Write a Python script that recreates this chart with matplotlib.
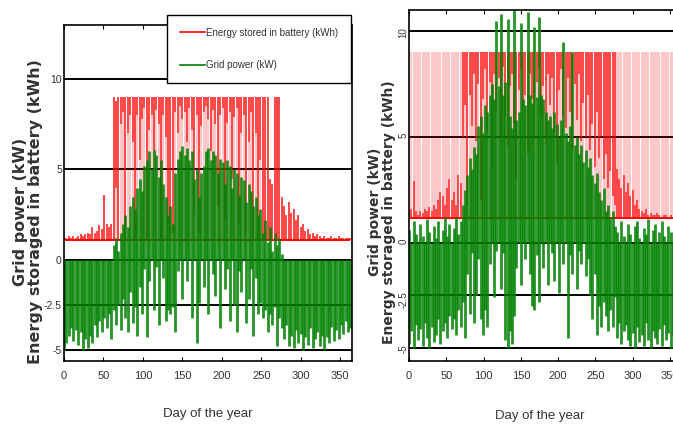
import numpy as np
import matplotlib
matplotlib.use('Agg')
import matplotlib.pyplot as plt
from matplotlib.lines import Line2D

NARROW = ['Liberation Sans', 'DejaVu Sans']

# one sample every 3 days (hourly data summarised as daily ranges)
days = np.arange(0, 366, 3)
xticks = [0, 50, 100, 150, 200, 250, 300, 350]
yticks = [-5, -2.5, 0, 5, 10]
ytick_labels = ['-5', '-2.5', '0', '5', '10']

# ---- left panel ----
L_floor = 1.1
L_red_max = [1.2, 1.2, 1.3, 1.2, 1.3, 1.2, 1.3, 1.4, 1.3, 1.4,
             1.5, 1.4, 1.8, 1.5, 1.6, 1.9, 1.7, 3.6, 2.0, 1.8,
             2.0, 9.0, 8.8, 9.0, 9.0, 9.0, 9.0, 9.0, 9.0, 9.0,
             9.0, 9.0, 9.0, 9.0, 9.0, 9.0, 9.0, 9.0, 9.0, 9.0,
             9.0, 9.0, 9.0, 9.0, 9.0, 9.0, 9.0, 9.0, 9.0, 9.0,
             9.0, 9.0, 9.0, 9.0, 9.0, 9.0, 9.0, 9.0, 9.0, 9.0,
             9.0, 9.0, 9.0, 9.0, 9.0, 9.0, 9.0, 9.0, 9.0, 9.0,
             9.0, 9.0, 9.0, 9.0, 9.0, 9.0, 9.0, 9.0, 9.0, 9.0,
             9.0, 9.0, 9.0, 9.0, 9.0, 9.0, 9.0, 4.5, 4.2, 9.0,
             9.0, 9.0, 3.5, 3.0, 2.5, 3.2, 2.6, 2.8, 2.2, 2.5,
             1.8, 2.0, 1.6, 1.7, 1.4, 1.5, 1.3, 1.4, 1.3, 1.2,
             1.3, 1.2, 1.2, 1.3, 1.2, 1.2, 1.3, 1.2, 1.2, 1.2,
             1.2, 1.2]
L_dense_lo = [1.1] * 20 + [
             1.1, 1.1, 4.0, 1.1, 7.5, 8.2, 1.1, 7.0, 8.0, 6.5,
             1.1, 8.0, 5.5, 7.8, 8.4, 1.1, 7.2, 8.0, 6.0, 8.3,
             7.5, 1.1, 8.0, 6.8, 2.0, 1.1, 1.5, 8.2, 7.0, 8.5,
             7.8, 8.2, 6.5, 8.4, 7.2, 2.5, 8.0, 1.5, 7.4, 8.2,
             8.5, 7.8, 6.0, 8.3, 7.5, 3.0, 8.0, 8.4, 2.2, 7.6,
             8.2, 4.5, 7.9, 8.4, 2.0, 7.0, 8.0, 1.5, 6.5, 8.2,
             1.1, 7.0, 1.1, 5.5, 1.1, 1.1, 1.1, 1.1, 1.1, 1.1] + [1.1] * 32
L_green_max = [0.0] * 20 + [
             0.0, 0.8, 1.2, 0.5, 1.5, 2.0, 2.5, 1.8, 3.0, 3.5,
             2.8, 4.0, 4.5, 3.8, 5.2, 5.5, 6.0, 5.0, 6.1, 5.8,
             4.6, 5.5, 4.2, 3.5, 2.5, 3.0, 2.0, 4.8, 5.6, 6.0,
             6.3, 5.8, 6.2, 5.5, 6.0, 4.5, 5.0, 3.5, 4.8, 5.2,
             6.0, 6.2, 5.5, 6.0, 5.8, 4.8, 5.6, 5.4, 4.2, 5.5,
             5.2, 4.0, 5.0, 4.8, 3.6, 4.6, 4.4, 3.2, 4.2, 3.8,
             3.0, 3.5, 2.5, 2.8, 1.5, 2.2, 1.0, 1.8, 0.5, 1.5,
             0.8, 1.2, 0.3] + [0.0] * 29
L_green_min = [-5.0, -4.6, -4.2, -3.8, -4.5, -3.9, -4.7, -4.0, -5.0, -4.4,
               -4.9, -4.2, -4.6, -3.6, -4.3, -3.4, -4.0, -3.2, -3.8, -3.0,
               -4.4, -2.8, -3.6, -2.5, -3.9, -2.2, -3.2, -4.0, -1.8, -3.5,
               -2.6, -4.2, -1.5, -3.0, -0.5, -4.3, -1.2, 0.0, -2.8, -0.4,
               -3.6, 0.0, -1.0, -3.4, -2.8, -3.0, -2.6, -4.0, -0.6, 0.0,
               -2.2, 0.0, -1.2, 0.0, -3.2, 0.0, -4.6, -2.4, 0.0, -1.5,
               0.0, -3.0, 0.0, -0.8, -2.0, 0.0, -3.8, 0.0, -1.6, -0.5,
               -3.4, 0.0, -2.5, -4.0, -0.6, -1.8, 0.0, -3.5, -2.2, -0.5,
               -4.2, -1.0, -3.0, -2.4, -3.2, -2.8, -4.0, -3.0, -3.6, -2.6,
               -4.8, -3.2, -3.8, -4.4, -3.6, -4.8, -4.2, -4.9, -3.9, -4.6,
               -4.1, -5.0, -4.3, -4.7, -3.8, -4.9, -4.4, -4.0, -4.8, -4.2,
               -5.0, -4.3, -4.6, -3.7, -4.5, -3.9, -4.4, -3.6, -4.1, -3.4,
               -4.0, -3.8]

# ---- right panel ----
R_floor = 1.15
R_red_max = [7.8] + [9.0] * 121
R_dense_hi = [1.4, 1.6, 2.9, 1.5, 1.3, 1.5, 1.4, 1.6, 1.5, 1.7,
              1.5, 1.8, 1.6, 2.0, 2.4, 2.2, 1.8, 2.6, 3.0, 2.0,
              2.4, 1.8, 3.2, 2.8, 9.0, 9.0, 9.0, 9.0, 9.0, 9.0] + [9.0] * 60 + [
              9.0, 9.0, 9.0, 3.5, 3.0, 2.6, 3.2, 2.4, 2.8, 2.2,
              2.5, 1.8, 2.0, 1.6, 1.5, 1.4, 1.6, 1.3, 1.4, 1.3,
              1.3, 1.4, 1.3, 1.2, 1.3, 1.3, 1.2, 1.3, 1.2, 1.3,
              1.2, 1.3]
R_dense_lo = [1.15] * 20 + [
              1.15, 1.15, 1.15, 1.15, 5.0, 6.5, 1.8, 7.0, 5.5, 8.0,
              4.8, 7.5, 2.0, 6.8, 8.2, 5.2, 7.6, 3.5, 8.0, 6.2,
              7.8, 5.0, 8.3, 6.0, 4.5, 7.4, 8.0, 5.6, 3.0, 7.2,
              8.2, 6.4, 7.0, 4.2, 8.0, 6.8, 5.0, 7.6, 8.3, 6.0,
              7.4, 4.6, 8.0, 6.5, 7.8, 5.2, 3.8, 7.2, 8.2, 6.0,
              5.4, 7.8, 6.2, 4.4, 7.5, 5.8, 8.0, 4.8, 6.6, 5.0,
              7.0, 4.4, 5.6, 3.6, 6.2, 4.0, 5.0, 3.0, 4.2, 2.6,
              3.4, 2.2, 1.8] + [1.15] * 29
R_green_max = [0.6, 0.0, 1.0, 0.4, 0.0, 0.9, 0.3, 0.0, 1.1, 0.5,
               0.0, 0.8, 0.2, 1.0, 0.0, 0.6, 1.2, 0.3, 0.9, 0.0,
               0.7, 1.2, 0.4, 1.0, 1.8, 2.5, 3.2, 4.0, 3.5, 4.5,
               4.2, 5.5, 6.0, 5.2, 6.5, 6.2, 7.0, 7.5, 6.8, 10.5,
               7.4, 10.8, 7.0, 7.6, 10.6, 6.0, 5.4, 11.0, 5.8, 6.2,
               10.4, 6.8, 6.5, 10.9, 7.0, 6.6, 10.2, 6.9, 10.7, 7.0,
               6.8, 6.2, 5.8, 6.0, 5.4, 6.2, 5.6, 5.0, 5.8, 9.5,
               5.2, 4.8, 5.5, 9.0, 4.6, 5.0, 4.2, 4.6, 3.8, 4.4,
               3.6, 4.0, 3.2, 2.8, 3.3, 2.4, 2.0, 2.6, 1.5, 1.8,
               1.2, 1.5, 0.8, 0.5, 0.0, 1.0, 0.3, 0.0, 0.9, 0.4,
               0.0, 0.8, 1.0, 0.2, 0.0, 0.7, 0.4, 1.1, 0.0, 0.6,
               0.9, 0.0, 0.5, 1.0, 0.3, 0.0, 0.8, 0.5, 0.0, 1.0,
               0.4, 0.0]
R_green_min = [-4.8, -4.2, -5.0, -3.9, -4.6, -4.1, -4.9, -3.8, -4.5, -5.0,
               -4.0, -4.7, -4.4, -3.6, -4.8, -4.2, -3.8, -4.5, -3.5, -4.1,
               -3.6, -4.4, -3.2, -4.0, -2.8, -4.5, -1.5, -3.4, -0.5, -3.8,
               -2.5, -0.8, -3.6, -4.4, -3.2, -4.0, -1.0, 0.0, -2.6, -0.4,
               0.0, -2.2, -0.5, -4.6, -5.0, -4.2, -4.8, -3.5, -1.2, 0.0,
               -2.0, 0.0, -0.8, 0.0, -1.5, -3.0, -3.2, -0.6, -2.8, 0.0,
               -1.2, 0.0, -2.0, 0.0, -0.5, -1.8, 0.0, -2.4, 0.0, -1.0,
               0.0, -4.5, -0.6, -1.5, 0.0, -2.2, -0.4, -1.0, 0.0, -1.6,
               -0.8, -2.5, -3.6, -1.5, -4.4, -3.0, -4.0, -2.8, -3.5, -4.2,
               -3.2, -4.0, -2.6, -4.5, -3.8, -4.8, -4.2, -3.9, -4.6, -4.9,
               -4.3, -5.0, -4.0, -4.7, -4.4, -4.9, -3.8, -4.6, -5.0, -4.2,
               -4.5, -4.8, -4.1, -4.9, -3.9, -4.6, -4.3, -5.0, -4.4, -4.7,
               -4.0, -4.5]

RED = '#ff0000'
GREEN = '#008000'


def draw_panel(ax, floor, red_max, dense_lo, dense_hi, g_min, g_max, ylim):
    ax.vlines(days, floor, red_max, color=RED, alpha=0.28, lw=1.1)
    ax.hlines(floor, days[0], days[-1], color=RED, lw=1.4)
    ax.vlines(days, dense_lo, dense_hi, color=RED, alpha=0.75, lw=1.2)
    ax.vlines(days, g_min, g_max, color=GREEN, alpha=0.85, lw=2.0)
    ax.set_xlim(0, 365)
    ax.set_ylim(*ylim)
    ax.set_xticks(xticks)
    ax.set_xticklabels([str(t) for t in xticks], family=NARROW, fontsize=8, color='#333')
    ax.set_yticks(yticks)
    ax.set_yticklabels(ytick_labels, family=NARROW, fontsize=7.5, color='#333')
    ax.yaxis.grid(True, color='black', lw=1.4)
    ax.set_axisbelow(True)
    ax.tick_params(axis='x', direction='in', top=True, length=3, pad=7)
    ax.tick_params(axis='y', length=0, pad=1.5)
    for s in ax.spines.values():
        s.set_linewidth(1.2)


fig = plt.figure(figsize=(6.73, 4.25), dpi=100)
axL = fig.add_axes([0.095, 0.151, 0.428, 0.790])
axR = fig.add_axes([0.608, 0.151, 0.404, 0.825])

draw_panel(axL, L_floor, L_red_max, L_dense_lo, L_red_max, L_green_min, L_green_max, (-5.6, 13.0))
draw_panel(axR, R_floor, R_red_max, R_dense_lo, R_dense_hi, R_green_min, R_green_max, (-5.6, 11.0))
axR.tick_params(axis='y', labelrotation=90, labelsize=7, pad=0.5)

ylab = 'Grid power (kW)\nEnergy storaged in battery (kWh)'
fig.text(28 / 673, 1 - 212 / 425, ylab, rotation=90, ha='center', va='center',
         fontsize=11.5, fontweight='bold', color='#333', linespacing=1.0)
fig.text(382 / 673, 1 - 212 / 425, ylab, rotation=90, ha='center', va='center',
         fontsize=10, fontweight='bold', color='#333', linespacing=0.95)

for ax, xc in ((axL, 0.5), (axR, 0.48)):
    ax.set_xlabel('Day of the year', family=NARROW, fontsize=9.5, color='#333')
    ax.xaxis.set_label_coords(xc, -0.14)

handles = [Line2D([], [], color=RED, lw=1.2), Line2D([], [], color=GREEN, lw=1.2)]
leg = axL.legend(handles, ['Energy stored in battery (kWh)', 'Grid power (kW)'],
                 loc='upper right', bbox_to_anchor=(351 / 673, 1 - 15 / 425),
                 bbox_transform=fig.transFigure, prop={'family': NARROW, 'size': 7},
                 fancybox=False, framealpha=1, edgecolor='black', handlelength=2.6,
                 handletextpad=0.1, labelspacing=2.3, borderpad=1.3, borderaxespad=0)
leg.get_frame().set_linewidth(1.0)
for t in leg.get_texts():
    t.set_color('#333')

fig.savefig('out.png', dpi=100)
